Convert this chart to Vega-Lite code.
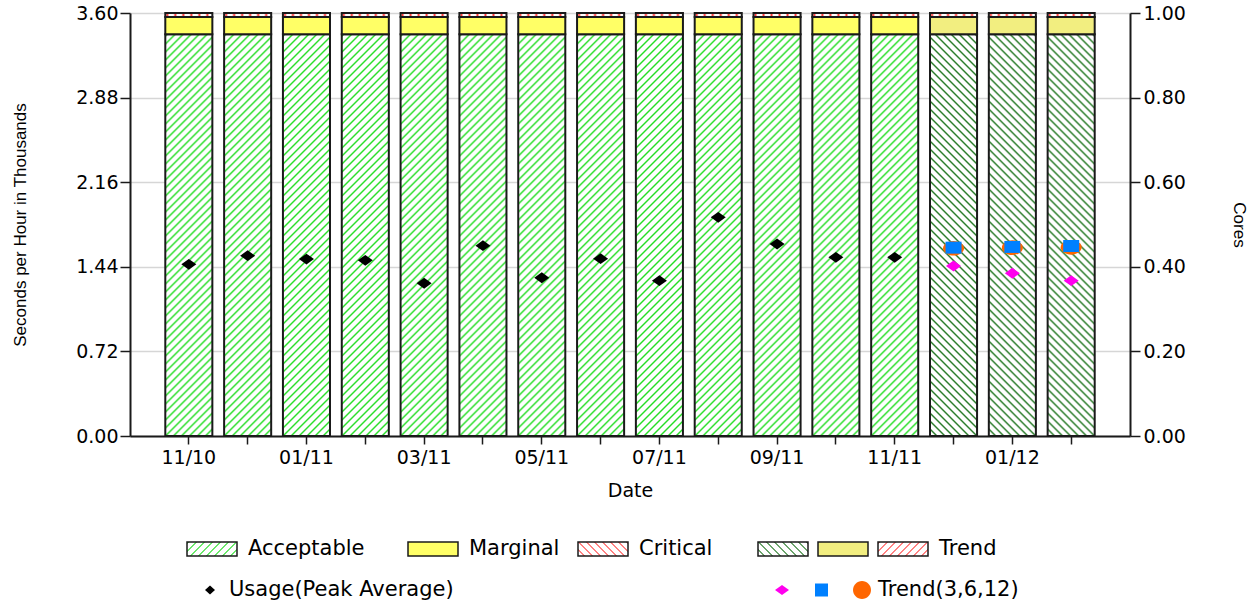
{
"$schema": "https://vega.github.io/schema/vega-lite/v6.json",
"width": 1000, "height": 423,
"autosize": "none",
"padding": {"left": 130, "top": 13, "right": 130, "bottom": 168},
"background": "white",
"config": {
 "view": {"stroke": null},
 "axis": {"domainColor": "#1a1a1a", "domainWidth": 2, "tickColor": "#1a1a1a", "tickWidth": 1.5, "labelFont": "DejaVu Sans", "labelFontSize": 19, "labelColor": "#000", "titleFont": "Liberation Sans", "titleFontSize": 17, "titleFontWeight": "normal", "titleColor": "#000", "gridColor": "#d6d6d6", "gridWidth": 1.5},
 "legend": {"orient": "none", "padding": 0, "symbolSize": 4, "symbolStrokeWidth": 1.5, "labelFont": "DejaVu Sans", "labelFontSize": 21, "labelColor": "#000", "labelLimit": 400, "labelOffset": 50.5}
},
"data": {"values": [
 {"m": "11/10", "usage": 1.461, "t3": null, "t6": null, "t12": null, "trend": false, "acc": 3.42, "marg": 3.565, "crit": 3.6},
 {"m": "12/10", "usage": 1.535, "t3": null, "t6": null, "t12": null, "trend": false, "acc": 3.42, "marg": 3.565, "crit": 3.6},
 {"m": "01/11", "usage": 1.506, "t3": null, "t6": null, "t12": null, "trend": false, "acc": 3.42, "marg": 3.565, "crit": 3.6},
 {"m": "02/11", "usage": 1.495, "t3": null, "t6": null, "t12": null, "trend": false, "acc": 3.42, "marg": 3.565, "crit": 3.6},
 {"m": "03/11", "usage": 1.300, "t3": null, "t6": null, "t12": null, "trend": false, "acc": 3.42, "marg": 3.565, "crit": 3.6},
 {"m": "04/11", "usage": 1.620, "t3": null, "t6": null, "t12": null, "trend": false, "acc": 3.42, "marg": 3.565, "crit": 3.6},
 {"m": "05/11", "usage": 1.347, "t3": null, "t6": null, "t12": null, "trend": false, "acc": 3.42, "marg": 3.565, "crit": 3.6},
 {"m": "06/11", "usage": 1.509, "t3": null, "t6": null, "t12": null, "trend": false, "acc": 3.42, "marg": 3.565, "crit": 3.6},
 {"m": "07/11", "usage": 1.322, "t3": null, "t6": null, "t12": null, "trend": false, "acc": 3.42, "marg": 3.565, "crit": 3.6},
 {"m": "08/11", "usage": 1.861, "t3": null, "t6": null, "t12": null, "trend": false, "acc": 3.42, "marg": 3.565, "crit": 3.6},
 {"m": "09/11", "usage": 1.634, "t3": null, "t6": null, "t12": null, "trend": false, "acc": 3.42, "marg": 3.565, "crit": 3.6},
 {"m": "10/11", "usage": 1.521, "t3": null, "t6": null, "t12": null, "trend": false, "acc": 3.42, "marg": 3.565, "crit": 3.6},
 {"m": "11/11", "usage": 1.521, "t3": null, "t6": null, "t12": null, "trend": false, "acc": 3.42, "marg": 3.565, "crit": 3.6},
 {"m": "12/11", "usage": null, "t3": 1.447, "t6": 1.603, "t12": 1.598, "trend": true, "acc": 3.42, "marg": 3.565, "crit": 3.6},
 {"m": "01/12", "usage": null, "t3": 1.385, "t6": 1.609, "t12": 1.603, "trend": true, "acc": 3.42, "marg": 3.565, "crit": 3.6},
 {"m": "02/12", "usage": null, "t3": 1.322, "t6": 1.617, "t12": 1.606, "trend": true, "acc": 3.42, "marg": 3.565, "crit": 3.6}
]},
"encoding": {
 "x": {"field": "m", "type": "ordinal",
  "scale": {"domain": ["11/10","12/10","01/11","02/11","03/11","04/11","05/11","06/11","07/11","08/11","09/11","10/11","11/11","12/11","01/12","02/12"], "paddingInner": 0.2, "paddingOuter": 0.6},
  "axis": {"title": "Date", "titleFont": "DejaVu Sans", "titleFontSize": 19, "labelAngle": 0, "tickSize": 8, "labelPadding": 4, "titlePadding": 14, "labelOverlap": false,
   "labelExpr": "indexof(['11/10','01/11','03/11','05/11','07/11','09/11','11/11','01/12'], datum.value) >= 0 ? datum.label : ''"}}
},
"layer": [
 {"layer": [
  {"transform": [{"filter": "!datum.trend"}],
   "mark": {"type": "bar", "strokeWidth": 2, "opacity": 1, "stroke": "#1a1a1a",
    "fill": {"gradient": "linear", "x1": 0, "y1": 0, "x2": 0.14374, "y2": 1.22741, "stops": [
{"offset":0,"color":"#fff"},{"offset":0.004,"color":"#2d2"},{"offset":0.008,"color":"#fff"},
{"offset":0.016,"color":"#fff"},{"offset":0.02,"color":"#2d2"},{"offset":0.024,"color":"#fff"},
{"offset":0.032,"color":"#fff"},{"offset":0.036,"color":"#2d2"},{"offset":0.04,"color":"#fff"},
{"offset":0.048,"color":"#fff"},{"offset":0.052,"color":"#2d2"},{"offset":0.056,"color":"#fff"},
{"offset":0.064,"color":"#fff"},{"offset":0.068,"color":"#2d2"},{"offset":0.072,"color":"#fff"},
{"offset":0.08,"color":"#fff"},{"offset":0.084,"color":"#2d2"},{"offset":0.088,"color":"#fff"},
{"offset":0.096,"color":"#fff"},{"offset":0.1,"color":"#2d2"},{"offset":0.104,"color":"#fff"},
{"offset":0.112,"color":"#fff"},{"offset":0.116,"color":"#2d2"},{"offset":0.12,"color":"#fff"},
{"offset":0.128,"color":"#fff"},{"offset":0.132,"color":"#2d2"},{"offset":0.136,"color":"#fff"},
{"offset":0.144,"color":"#fff"},{"offset":0.148,"color":"#2d2"},{"offset":0.152,"color":"#fff"},
{"offset":0.16,"color":"#fff"},{"offset":0.164,"color":"#2d2"},{"offset":0.168,"color":"#fff"},
{"offset":0.176,"color":"#fff"},{"offset":0.18,"color":"#2d2"},{"offset":0.184,"color":"#fff"},
{"offset":0.192,"color":"#fff"},{"offset":0.196,"color":"#2d2"},{"offset":0.2,"color":"#fff"},
{"offset":0.208,"color":"#fff"},{"offset":0.212,"color":"#2d2"},{"offset":0.216,"color":"#fff"},
{"offset":0.224,"color":"#fff"},{"offset":0.228,"color":"#2d2"},{"offset":0.232,"color":"#fff"},
{"offset":0.24,"color":"#fff"},{"offset":0.244,"color":"#2d2"},{"offset":0.248,"color":"#fff"},
{"offset":0.256,"color":"#fff"},{"offset":0.26,"color":"#2d2"},{"offset":0.264,"color":"#fff"},
{"offset":0.272,"color":"#fff"},{"offset":0.276,"color":"#2d2"},{"offset":0.28,"color":"#fff"},
{"offset":0.288,"color":"#fff"},{"offset":0.292,"color":"#2d2"},{"offset":0.296,"color":"#fff"},
{"offset":0.304,"color":"#fff"},{"offset":0.308,"color":"#2d2"},{"offset":0.312,"color":"#fff"},
{"offset":0.32,"color":"#fff"},{"offset":0.324,"color":"#2d2"},{"offset":0.328,"color":"#fff"},
{"offset":0.336,"color":"#fff"},{"offset":0.34,"color":"#2d2"},{"offset":0.344,"color":"#fff"},
{"offset":0.352,"color":"#fff"},{"offset":0.356,"color":"#2d2"},{"offset":0.36,"color":"#fff"},
{"offset":0.368,"color":"#fff"},{"offset":0.372,"color":"#2d2"},{"offset":0.376,"color":"#fff"},
{"offset":0.384,"color":"#fff"},{"offset":0.388,"color":"#2d2"},{"offset":0.392,"color":"#fff"},
{"offset":0.4,"color":"#fff"},{"offset":0.404,"color":"#2d2"},{"offset":0.408,"color":"#fff"},
{"offset":0.416,"color":"#fff"},{"offset":0.42,"color":"#2d2"},{"offset":0.424,"color":"#fff"},
{"offset":0.432,"color":"#fff"},{"offset":0.436,"color":"#2d2"},{"offset":0.44,"color":"#fff"},
{"offset":0.448,"color":"#fff"},{"offset":0.452,"color":"#2d2"},{"offset":0.456,"color":"#fff"},
{"offset":0.464,"color":"#fff"},{"offset":0.468,"color":"#2d2"},{"offset":0.472,"color":"#fff"},
{"offset":0.48,"color":"#fff"},{"offset":0.484,"color":"#2d2"},{"offset":0.488,"color":"#fff"},
{"offset":0.496,"color":"#fff"},{"offset":0.5,"color":"#2d2"},{"offset":0.504,"color":"#fff"},
{"offset":0.512,"color":"#fff"},{"offset":0.516,"color":"#2d2"},{"offset":0.52,"color":"#fff"},
{"offset":0.528,"color":"#fff"},{"offset":0.532,"color":"#2d2"},{"offset":0.536,"color":"#fff"},
{"offset":0.544,"color":"#fff"},{"offset":0.548,"color":"#2d2"},{"offset":0.552,"color":"#fff"},
{"offset":0.56,"color":"#fff"},{"offset":0.564,"color":"#2d2"},{"offset":0.568,"color":"#fff"},
{"offset":0.576,"color":"#fff"},{"offset":0.58,"color":"#2d2"},{"offset":0.584,"color":"#fff"},
{"offset":0.592,"color":"#fff"},{"offset":0.596,"color":"#2d2"},{"offset":0.6,"color":"#fff"},
{"offset":0.608,"color":"#fff"},{"offset":0.612,"color":"#2d2"},{"offset":0.616,"color":"#fff"},
{"offset":0.624,"color":"#fff"},{"offset":0.628,"color":"#2d2"},{"offset":0.632,"color":"#fff"},
{"offset":0.64,"color":"#fff"},{"offset":0.644,"color":"#2d2"},{"offset":0.648,"color":"#fff"},
{"offset":0.656,"color":"#fff"},{"offset":0.66,"color":"#2d2"},{"offset":0.664,"color":"#fff"},
{"offset":0.672,"color":"#fff"},{"offset":0.676,"color":"#2d2"},{"offset":0.68,"color":"#fff"},
{"offset":0.688,"color":"#fff"},{"offset":0.692,"color":"#2d2"},{"offset":0.696,"color":"#fff"},
{"offset":0.704,"color":"#fff"},{"offset":0.708,"color":"#2d2"},{"offset":0.712,"color":"#fff"},
{"offset":0.72,"color":"#fff"},{"offset":0.724,"color":"#2d2"},{"offset":0.728,"color":"#fff"},
{"offset":0.736,"color":"#fff"},{"offset":0.74,"color":"#2d2"},{"offset":0.744,"color":"#fff"},
{"offset":0.752,"color":"#fff"},{"offset":0.756,"color":"#2d2"},{"offset":0.76,"color":"#fff"},
{"offset":0.768,"color":"#fff"},{"offset":0.772,"color":"#2d2"},{"offset":0.776,"color":"#fff"},
{"offset":0.784,"color":"#fff"},{"offset":0.788,"color":"#2d2"},{"offset":0.792,"color":"#fff"},
{"offset":0.8,"color":"#fff"},{"offset":0.804,"color":"#2d2"},{"offset":0.808,"color":"#fff"},
{"offset":0.816,"color":"#fff"},{"offset":0.82,"color":"#2d2"},{"offset":0.824,"color":"#fff"},
{"offset":0.832,"color":"#fff"},{"offset":0.836,"color":"#2d2"},{"offset":0.84,"color":"#fff"},
{"offset":0.848,"color":"#fff"},{"offset":0.852,"color":"#2d2"},{"offset":0.856,"color":"#fff"},
{"offset":0.864,"color":"#fff"},{"offset":0.868,"color":"#2d2"},{"offset":0.872,"color":"#fff"},
{"offset":0.88,"color":"#fff"},{"offset":0.884,"color":"#2d2"},{"offset":0.888,"color":"#fff"},
{"offset":0.896,"color":"#fff"},{"offset":0.9,"color":"#2d2"},{"offset":0.904,"color":"#fff"},
{"offset":1,"color":"#fff"}]}},
   "encoding": {
    "y": {"field": "acc", "type": "quantitative", "scale": {"domain": [0, 3.6], "nice": false},
     "axis": {"title": "Seconds per Hour in Thousands", "values": [0, 0.72, 1.44, 2.16, 2.88, 3.6], "format": ".2f", "tickSize": 10, "labelPadding": 2, "titlePadding": 46, "grid": true}}
   }},
  {"transform": [{"filter": "!datum.trend"}],
   "mark": {"type": "bar", "strokeWidth": 2, "opacity": 1, "fill": "#ffff66", "stroke": "#1a1a1a"},
   "encoding": {
    "y": {"field": "marg", "type": "quantitative", "scale": {"domain": [0, 3.6], "nice": false},
     "axis": {"title": "Seconds per Hour in Thousands", "values": [0, 0.72, 1.44, 2.16, 2.88, 3.6], "format": ".2f", "tickSize": 10, "labelPadding": 2, "titlePadding": 46, "grid": true}},
    "y2": {"field": "acc"}
   }},
  {"transform": [{"filter": "!datum.trend"}],
   "mark": {"type": "bar", "strokeWidth": 2, "opacity": 1, "stroke": "#1a1a1a",
    "fill": {"gradient": "linear", "x1": 0, "y1": 0, "x2": 1, "y2": 0, "stops": [
     {"offset":0,"color":"#fff"},{"offset":0.0426,"color":"#f33"},{"offset":0.0851,"color":"#fff"},
     {"offset":0.1702,"color":"#fff"},{"offset":0.2128,"color":"#f33"},{"offset":0.2553,"color":"#fff"},
     {"offset":0.3404,"color":"#fff"},{"offset":0.383,"color":"#f33"},{"offset":0.4255,"color":"#fff"},
     {"offset":0.5106,"color":"#fff"},{"offset":0.5532,"color":"#f33"},{"offset":0.5957,"color":"#fff"},
     {"offset":0.6809,"color":"#fff"},{"offset":0.7234,"color":"#f33"},{"offset":0.766,"color":"#fff"},
     {"offset":0.8511,"color":"#fff"},{"offset":0.8936,"color":"#f33"},{"offset":0.9362,"color":"#fff"},
     {"offset":1,"color":"#fff"}]}},
   "encoding": {
    "y": {"field": "crit", "type": "quantitative", "scale": {"domain": [0, 3.6], "nice": false},
     "axis": {"title": "Seconds per Hour in Thousands", "values": [0, 0.72, 1.44, 2.16, 2.88, 3.6], "format": ".2f", "tickSize": 10, "labelPadding": 2, "titlePadding": 46, "grid": true}},
    "y2": {"field": "marg"}
   }},
  {"transform": [{"filter": "datum.trend"}],
   "mark": {"type": "bar", "strokeWidth": 2, "opacity": 1, "stroke": "#1a1a1a",
    "fill": {"gradient": "linear", "x1": 1, "y1": 0, "x2": 0.85626, "y2": 1.22741, "stops": [
{"offset":0,"color":"#fff"},{"offset":0.004,"color":"#272"},{"offset":0.008,"color":"#fff"},
{"offset":0.016,"color":"#fff"},{"offset":0.02,"color":"#272"},{"offset":0.024,"color":"#fff"},
{"offset":0.032,"color":"#fff"},{"offset":0.036,"color":"#272"},{"offset":0.04,"color":"#fff"},
{"offset":0.048,"color":"#fff"},{"offset":0.052,"color":"#272"},{"offset":0.056,"color":"#fff"},
{"offset":0.064,"color":"#fff"},{"offset":0.068,"color":"#272"},{"offset":0.072,"color":"#fff"},
{"offset":0.08,"color":"#fff"},{"offset":0.084,"color":"#272"},{"offset":0.088,"color":"#fff"},
{"offset":0.096,"color":"#fff"},{"offset":0.1,"color":"#272"},{"offset":0.104,"color":"#fff"},
{"offset":0.112,"color":"#fff"},{"offset":0.116,"color":"#272"},{"offset":0.12,"color":"#fff"},
{"offset":0.128,"color":"#fff"},{"offset":0.132,"color":"#272"},{"offset":0.136,"color":"#fff"},
{"offset":0.144,"color":"#fff"},{"offset":0.148,"color":"#272"},{"offset":0.152,"color":"#fff"},
{"offset":0.16,"color":"#fff"},{"offset":0.164,"color":"#272"},{"offset":0.168,"color":"#fff"},
{"offset":0.176,"color":"#fff"},{"offset":0.18,"color":"#272"},{"offset":0.184,"color":"#fff"},
{"offset":0.192,"color":"#fff"},{"offset":0.196,"color":"#272"},{"offset":0.2,"color":"#fff"},
{"offset":0.208,"color":"#fff"},{"offset":0.212,"color":"#272"},{"offset":0.216,"color":"#fff"},
{"offset":0.224,"color":"#fff"},{"offset":0.228,"color":"#272"},{"offset":0.232,"color":"#fff"},
{"offset":0.24,"color":"#fff"},{"offset":0.244,"color":"#272"},{"offset":0.248,"color":"#fff"},
{"offset":0.256,"color":"#fff"},{"offset":0.26,"color":"#272"},{"offset":0.264,"color":"#fff"},
{"offset":0.272,"color":"#fff"},{"offset":0.276,"color":"#272"},{"offset":0.28,"color":"#fff"},
{"offset":0.288,"color":"#fff"},{"offset":0.292,"color":"#272"},{"offset":0.296,"color":"#fff"},
{"offset":0.304,"color":"#fff"},{"offset":0.308,"color":"#272"},{"offset":0.312,"color":"#fff"},
{"offset":0.32,"color":"#fff"},{"offset":0.324,"color":"#272"},{"offset":0.328,"color":"#fff"},
{"offset":0.336,"color":"#fff"},{"offset":0.34,"color":"#272"},{"offset":0.344,"color":"#fff"},
{"offset":0.352,"color":"#fff"},{"offset":0.356,"color":"#272"},{"offset":0.36,"color":"#fff"},
{"offset":0.368,"color":"#fff"},{"offset":0.372,"color":"#272"},{"offset":0.376,"color":"#fff"},
{"offset":0.384,"color":"#fff"},{"offset":0.388,"color":"#272"},{"offset":0.392,"color":"#fff"},
{"offset":0.4,"color":"#fff"},{"offset":0.404,"color":"#272"},{"offset":0.408,"color":"#fff"},
{"offset":0.416,"color":"#fff"},{"offset":0.42,"color":"#272"},{"offset":0.424,"color":"#fff"},
{"offset":0.432,"color":"#fff"},{"offset":0.436,"color":"#272"},{"offset":0.44,"color":"#fff"},
{"offset":0.448,"color":"#fff"},{"offset":0.452,"color":"#272"},{"offset":0.456,"color":"#fff"},
{"offset":0.464,"color":"#fff"},{"offset":0.468,"color":"#272"},{"offset":0.472,"color":"#fff"},
{"offset":0.48,"color":"#fff"},{"offset":0.484,"color":"#272"},{"offset":0.488,"color":"#fff"},
{"offset":0.496,"color":"#fff"},{"offset":0.5,"color":"#272"},{"offset":0.504,"color":"#fff"},
{"offset":0.512,"color":"#fff"},{"offset":0.516,"color":"#272"},{"offset":0.52,"color":"#fff"},
{"offset":0.528,"color":"#fff"},{"offset":0.532,"color":"#272"},{"offset":0.536,"color":"#fff"},
{"offset":0.544,"color":"#fff"},{"offset":0.548,"color":"#272"},{"offset":0.552,"color":"#fff"},
{"offset":0.56,"color":"#fff"},{"offset":0.564,"color":"#272"},{"offset":0.568,"color":"#fff"},
{"offset":0.576,"color":"#fff"},{"offset":0.58,"color":"#272"},{"offset":0.584,"color":"#fff"},
{"offset":0.592,"color":"#fff"},{"offset":0.596,"color":"#272"},{"offset":0.6,"color":"#fff"},
{"offset":0.608,"color":"#fff"},{"offset":0.612,"color":"#272"},{"offset":0.616,"color":"#fff"},
{"offset":0.624,"color":"#fff"},{"offset":0.628,"color":"#272"},{"offset":0.632,"color":"#fff"},
{"offset":0.64,"color":"#fff"},{"offset":0.644,"color":"#272"},{"offset":0.648,"color":"#fff"},
{"offset":0.656,"color":"#fff"},{"offset":0.66,"color":"#272"},{"offset":0.664,"color":"#fff"},
{"offset":0.672,"color":"#fff"},{"offset":0.676,"color":"#272"},{"offset":0.68,"color":"#fff"},
{"offset":0.688,"color":"#fff"},{"offset":0.692,"color":"#272"},{"offset":0.696,"color":"#fff"},
{"offset":0.704,"color":"#fff"},{"offset":0.708,"color":"#272"},{"offset":0.712,"color":"#fff"},
{"offset":0.72,"color":"#fff"},{"offset":0.724,"color":"#272"},{"offset":0.728,"color":"#fff"},
{"offset":0.736,"color":"#fff"},{"offset":0.74,"color":"#272"},{"offset":0.744,"color":"#fff"},
{"offset":0.752,"color":"#fff"},{"offset":0.756,"color":"#272"},{"offset":0.76,"color":"#fff"},
{"offset":0.768,"color":"#fff"},{"offset":0.772,"color":"#272"},{"offset":0.776,"color":"#fff"},
{"offset":0.784,"color":"#fff"},{"offset":0.788,"color":"#272"},{"offset":0.792,"color":"#fff"},
{"offset":0.8,"color":"#fff"},{"offset":0.804,"color":"#272"},{"offset":0.808,"color":"#fff"},
{"offset":0.816,"color":"#fff"},{"offset":0.82,"color":"#272"},{"offset":0.824,"color":"#fff"},
{"offset":0.832,"color":"#fff"},{"offset":0.836,"color":"#272"},{"offset":0.84,"color":"#fff"},
{"offset":0.848,"color":"#fff"},{"offset":0.852,"color":"#272"},{"offset":0.856,"color":"#fff"},
{"offset":0.864,"color":"#fff"},{"offset":0.868,"color":"#272"},{"offset":0.872,"color":"#fff"},
{"offset":0.88,"color":"#fff"},{"offset":0.884,"color":"#272"},{"offset":0.888,"color":"#fff"},
{"offset":0.896,"color":"#fff"},{"offset":0.9,"color":"#272"},{"offset":0.904,"color":"#fff"},
{"offset":1,"color":"#fff"}]}},
   "encoding": {
    "y": {"field": "acc", "type": "quantitative", "scale": {"domain": [0, 3.6], "nice": false},
     "axis": {"title": "Seconds per Hour in Thousands", "values": [0, 0.72, 1.44, 2.16, 2.88, 3.6], "format": ".2f", "tickSize": 10, "labelPadding": 2, "titlePadding": 46, "grid": true}}
   }},
  {"transform": [{"filter": "datum.trend"}],
   "mark": {"type": "bar", "strokeWidth": 2, "opacity": 1, "fill": "#f2ee80", "stroke": "#1a1a1a"},
   "encoding": {
    "y": {"field": "marg", "type": "quantitative", "scale": {"domain": [0, 3.6], "nice": false},
     "axis": {"title": "Seconds per Hour in Thousands", "values": [0, 0.72, 1.44, 2.16, 2.88, 3.6], "format": ".2f", "tickSize": 10, "labelPadding": 2, "titlePadding": 46, "grid": true}},
    "y2": {"field": "acc"}
   }},
  {"transform": [{"filter": "datum.trend"}],
   "mark": {"type": "bar", "strokeWidth": 2, "opacity": 1, "stroke": "#1a1a1a",
    "fill": {"gradient": "linear", "x1": 0, "y1": 0, "x2": 1, "y2": 0, "stops": [
     {"offset":0,"color":"#fff"},{"offset":0.0426,"color":"#f33"},{"offset":0.0851,"color":"#fff"},
     {"offset":0.1702,"color":"#fff"},{"offset":0.2128,"color":"#f33"},{"offset":0.2553,"color":"#fff"},
     {"offset":0.3404,"color":"#fff"},{"offset":0.383,"color":"#f33"},{"offset":0.4255,"color":"#fff"},
     {"offset":0.5106,"color":"#fff"},{"offset":0.5532,"color":"#f33"},{"offset":0.5957,"color":"#fff"},
     {"offset":0.6809,"color":"#fff"},{"offset":0.7234,"color":"#f33"},{"offset":0.766,"color":"#fff"},
     {"offset":0.8511,"color":"#fff"},{"offset":0.8936,"color":"#f33"},{"offset":0.9362,"color":"#fff"},
     {"offset":1,"color":"#fff"}]}},
   "encoding": {
    "y": {"field": "crit", "type": "quantitative", "scale": {"domain": [0, 3.6], "nice": false},
     "axis": {"title": "Seconds per Hour in Thousands", "values": [0, 0.72, 1.44, 2.16, 2.88, 3.6], "format": ".2f", "tickSize": 10, "labelPadding": 2, "titlePadding": 46, "grid": true}},
    "y2": {"field": "marg"}
   }},
  {"transform": [{"filter": "false"}],
   "mark": {"type": "bar", "strokeWidth": 1.5,
    "fill": {"gradient": "linear", "x1": 0, "y1": 0, "x2": 1.1869, "y2": 0.3323, "stops": [
     {"offset":0,"color":"#fff"},{"offset":0.023,"color":"#2d2"},{"offset":0.047,"color":"#fff"},
     {"offset":0.125,"color":"#fff"},{"offset":0.148,"color":"#2d2"},{"offset":0.172,"color":"#fff"},
     {"offset":0.25,"color":"#fff"},{"offset":0.273,"color":"#2d2"},{"offset":0.297,"color":"#fff"},
     {"offset":0.375,"color":"#fff"},{"offset":0.398,"color":"#2d2"},{"offset":0.422,"color":"#fff"},
     {"offset":0.5,"color":"#fff"},{"offset":0.523,"color":"#2d2"},{"offset":0.547,"color":"#fff"},
     {"offset":0.625,"color":"#fff"},{"offset":0.648,"color":"#2d2"},{"offset":0.672,"color":"#fff"},
     {"offset":0.75,"color":"#fff"},{"offset":0.773,"color":"#2d2"},{"offset":0.797,"color":"#fff"},
     {"offset":0.875,"color":"#fff"},{"offset":0.898,"color":"#2d2"},{"offset":0.922,"color":"#fff"},
     {"offset":1,"color":"#fff"}]}},
   "encoding": {"stroke": {"datum": "Acceptable", "type": "nominal", "scale": {"range": ["#1a1a1a"]},
    "legend": {"title": null, "legendX": 46.5, "legendY": 525.5, "symbolType": "M0,-7H50V7H0Z"}}}},
  {"transform": [{"filter": "false"}],
   "mark": {"type": "bar", "strokeWidth": 1.5, "fill": "#ffff66"},
   "encoding": {"stroke": {"datum": "Marginal", "type": "nominal", "scale": {"range": ["#1a1a1a"]},
    "legend": {"title": null, "legendX": 267.5, "legendY": 525.5, "symbolType": "M0,-7H50V7H0Z"}}}},
  {"transform": [{"filter": "false"}],
   "mark": {"type": "bar", "strokeWidth": 1.5,
    "fill": {"gradient": "linear", "x1": 1, "y1": 0, "x2": -0.1869, "y2": 0.3323, "stops": [
     {"offset":0,"color":"#fff"},{"offset":0.023,"color":"#f44"},{"offset":0.047,"color":"#fff"},
     {"offset":0.125,"color":"#fff"},{"offset":0.148,"color":"#f44"},{"offset":0.172,"color":"#fff"},
     {"offset":0.25,"color":"#fff"},{"offset":0.273,"color":"#f44"},{"offset":0.297,"color":"#fff"},
     {"offset":0.375,"color":"#fff"},{"offset":0.398,"color":"#f44"},{"offset":0.422,"color":"#fff"},
     {"offset":0.5,"color":"#fff"},{"offset":0.523,"color":"#f44"},{"offset":0.547,"color":"#fff"},
     {"offset":0.625,"color":"#fff"},{"offset":0.648,"color":"#f44"},{"offset":0.672,"color":"#fff"},
     {"offset":0.75,"color":"#fff"},{"offset":0.773,"color":"#f44"},{"offset":0.797,"color":"#fff"},
     {"offset":0.875,"color":"#fff"},{"offset":0.898,"color":"#f44"},{"offset":0.922,"color":"#fff"},
     {"offset":1,"color":"#fff"}]}},
   "encoding": {"stroke": {"datum": "Critical", "type": "nominal", "scale": {"range": ["#1a1a1a"]},
    "legend": {"title": null, "legendX": 437.5, "legendY": 525.5, "symbolType": "M0,-7H50V7H0Z"}}}},
  {"transform": [{"filter": "false"}],
   "mark": {"type": "bar", "strokeWidth": 1.5,
    "fill": {"gradient": "linear", "x1": 1, "y1": 0, "x2": -0.1869, "y2": 0.3323, "stops": [
     {"offset":0,"color":"#fff"},{"offset":0.023,"color":"#272"},{"offset":0.047,"color":"#fff"},
     {"offset":0.125,"color":"#fff"},{"offset":0.148,"color":"#272"},{"offset":0.172,"color":"#fff"},
     {"offset":0.25,"color":"#fff"},{"offset":0.273,"color":"#272"},{"offset":0.297,"color":"#fff"},
     {"offset":0.375,"color":"#fff"},{"offset":0.398,"color":"#272"},{"offset":0.422,"color":"#fff"},
     {"offset":0.5,"color":"#fff"},{"offset":0.523,"color":"#272"},{"offset":0.547,"color":"#fff"},
     {"offset":0.625,"color":"#fff"},{"offset":0.648,"color":"#272"},{"offset":0.672,"color":"#fff"},
     {"offset":0.75,"color":"#fff"},{"offset":0.773,"color":"#272"},{"offset":0.797,"color":"#fff"},
     {"offset":0.875,"color":"#fff"},{"offset":0.898,"color":"#272"},{"offset":0.922,"color":"#fff"},
     {"offset":1,"color":"#fff"}]}},
   "encoding": {"stroke": {"datum": "TrendAcceptable", "type": "nominal", "scale": {"range": ["#1a1a1a"]},
    "legend": {"title": null, "legendX": 617.5, "legendY": 525.5, "symbolType": "M0,-7H50V7H0Z", "labelExpr": "''"}}}},
  {"transform": [{"filter": "false"}],
   "mark": {"type": "bar", "strokeWidth": 1.5, "fill": "#f2ee80"},
   "encoding": {"stroke": {"datum": "TrendMarginal", "type": "nominal", "scale": {"range": ["#1a1a1a"]},
    "legend": {"title": null, "legendX": 677.5, "legendY": 525.5, "symbolType": "M0,-7H50V7H0Z", "labelExpr": "''"}}}},
  {"transform": [{"filter": "false"}],
   "mark": {"type": "bar", "strokeWidth": 1.5,
    "fill": {"gradient": "linear", "x1": 0, "y1": 0, "x2": 1.1869, "y2": 0.3323, "stops": [
     {"offset":0,"color":"#fff"},{"offset":0.023,"color":"#f44"},{"offset":0.047,"color":"#fff"},
     {"offset":0.125,"color":"#fff"},{"offset":0.148,"color":"#f44"},{"offset":0.172,"color":"#fff"},
     {"offset":0.25,"color":"#fff"},{"offset":0.273,"color":"#f44"},{"offset":0.297,"color":"#fff"},
     {"offset":0.375,"color":"#fff"},{"offset":0.398,"color":"#f44"},{"offset":0.422,"color":"#fff"},
     {"offset":0.5,"color":"#fff"},{"offset":0.523,"color":"#f44"},{"offset":0.547,"color":"#fff"},
     {"offset":0.625,"color":"#fff"},{"offset":0.648,"color":"#f44"},{"offset":0.672,"color":"#fff"},
     {"offset":0.75,"color":"#fff"},{"offset":0.773,"color":"#f44"},{"offset":0.797,"color":"#fff"},
     {"offset":0.875,"color":"#fff"},{"offset":0.898,"color":"#f44"},{"offset":0.922,"color":"#fff"},
     {"offset":1,"color":"#fff"}]}},
   "encoding": {"stroke": {"datum": "Trend", "type": "nominal", "scale": {"range": ["#1a1a1a"]},
    "legend": {"title": null, "legendX": 737.5, "legendY": 525.5, "symbolType": "M0,-7H50V7H0Z"}}}}
 ],
 "resolve": {"scale": {"stroke": "independent"}}},
 {"layer": [
  {"mark": {"type": "point", "filled": true, "opacity": 1, "strokeWidth": 0, "color": "#000", "size": 225, "shape": "M-1,0L0,-0.72L1,0L0,0.72Z"},
   "encoding": {
    "y": {"field": "usage", "type": "quantitative", "scale": {"domain": [0, 3.6], "nice": false},
     "axis": {"orient": "right", "title": "Cores", "values": [0, 0.72, 1.44, 2.16, 2.88, 3.6], "labelExpr": "format(datum.value / 3.6, '.2f')", "tickSize": 10, "labelPadding": 3, "titlePadding": 44, "grid": false}},
    "stroke": {"datum": "Usage(Peak Average)", "type": "nominal", "scale": {"range": ["transparent"]},
     "legend": {"title": null, "legendX": 64.5, "legendY": 566.5, "symbolType": "M0,0L5,-4.5L10,0L5,4.5Z", "labelOffset": 13.5}}
   }},
  {"mark": {"type": "point", "filled": true, "opacity": 1, "strokeWidth": 0, "color": "#ff6600", "size": 441, "shape": "M-1,0A1,0.7 0 1,0 1,0A1,0.7 0 1,0 -1,0Z"},
   "encoding": {
    "y": {"field": "t12", "type": "quantitative", "scale": {"domain": [0, 3.6], "nice": false},
     "axis": {"orient": "right", "title": "Cores", "values": [0, 0.72, 1.44, 2.16, 2.88, 3.6], "labelExpr": "format(datum.value / 3.6, '.2f')", "tickSize": 10, "labelPadding": 3, "titlePadding": 44, "grid": false}},
    "stroke": {"datum": "Trend(3,6,12)", "type": "nominal", "scale": {"range": ["transparent"]},
     "legend": {"title": null, "legendX": 712.5, "legendY": 566.5, "symbolType": "M0,0A9,9 0 1,0 18,0A9,9 0 1,0 0,0Z", "labelOffset": 14.5}}
   }},
  {"mark": {"type": "point", "filled": true, "opacity": 1, "strokeWidth": 0, "color": "#0080ff", "size": 256, "shape": "M-1,-0.75H1V0.75H-1Z"},
   "encoding": {
    "y": {"field": "t6", "type": "quantitative", "scale": {"domain": [0, 3.6], "nice": false},
     "axis": {"orient": "right", "title": "Cores", "values": [0, 0.72, 1.44, 2.16, 2.88, 3.6], "labelExpr": "format(datum.value / 3.6, '.2f')", "tickSize": 10, "labelPadding": 3, "titlePadding": 44, "grid": false}},
    "stroke": {"datum": "Trend6", "type": "nominal", "scale": {"range": ["transparent"]},
     "legend": {"title": null, "legendX": 674.5, "legendY": 566.5, "symbolType": "M0,-6.5H13V6.5H0Z", "labelExpr": "''"}}
   }},
  {"mark": {"type": "point", "filled": true, "opacity": 1, "strokeWidth": 0, "color": "#ff00ee", "size": 225, "shape": "M-1,0L0,-0.72L1,0L0,0.72Z"},
   "encoding": {
    "y": {"field": "t3", "type": "quantitative", "scale": {"domain": [0, 3.6], "nice": false},
     "axis": {"orient": "right", "title": "Cores", "values": [0, 0.72, 1.44, 2.16, 2.88, 3.6], "labelExpr": "format(datum.value / 3.6, '.2f')", "tickSize": 10, "labelPadding": 3, "titlePadding": 44, "grid": false}},
    "stroke": {"datum": "Trend3", "type": "nominal", "scale": {"range": ["transparent"]},
     "legend": {"title": null, "legendX": 634.5, "legendY": 566.5, "symbolType": "M0,0L7,-5L14,0L7,5Z", "labelExpr": "''"}}
   }}
 ],
 "resolve": {"scale": {"stroke": "independent"}}}
],
"resolve": {"scale": {"y": "independent", "stroke": "independent"}}
}
